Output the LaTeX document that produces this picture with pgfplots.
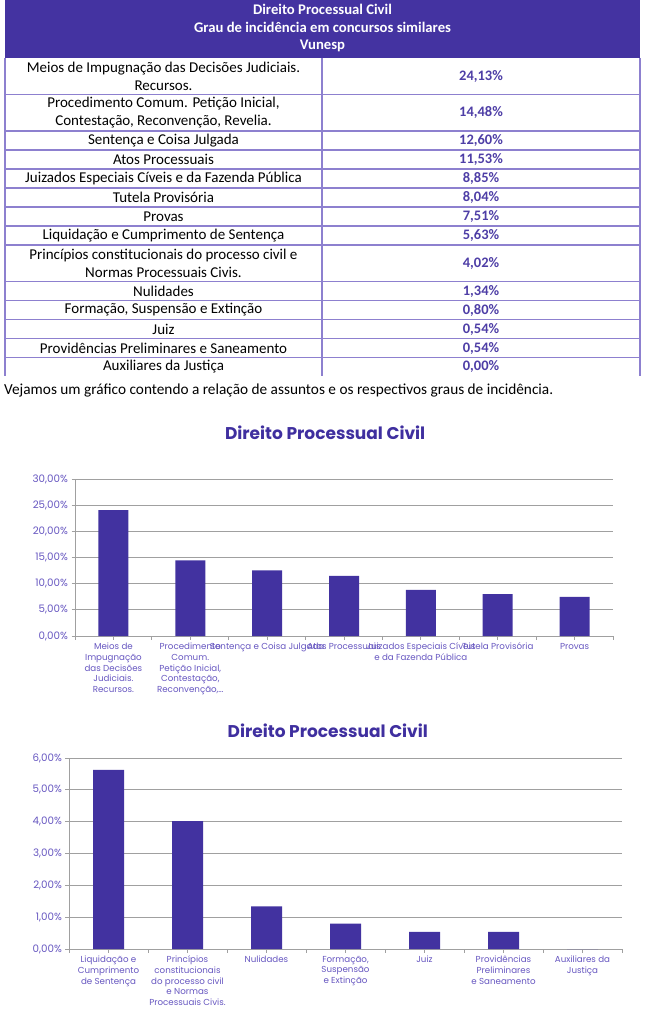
\documentclass[border=0pt]{standalone}
\usepackage{fontspec}
\setmainfont{Carlito}
\newfontfamily\chartfont{Poppins}
\usepackage{pgfplots}
\pgfplotsset{compat=1.18}
\usepackage{pgfplotstable}
\definecolor{hdr}{HTML}{4433A1}
\definecolor{barc}{HTML}{4232A0}
\definecolor{tline}{HTML}{8D80CF}
\definecolor{valc}{HTML}{4E3EA6}
\definecolor{ttl}{HTML}{3F2F9F}
\definecolor{tickc}{HTML}{6656C0}
\definecolor{gridc}{HTML}{A0A0A0}

\pgfplotstableread{
x y
0 24.13
1 14.48
2 12.60
3 11.53
4 8.85
5 8.04
6 7.51
}\tabA
\pgfplotstableread{
x y
0 5.63
1 4.02
2 1.34
3 0.80
4 0.54
5 0.54
6 0.00
}\tabB

\pgfplotsset{
  dpc/.style={
    scale only axis, anchor=south west,
    ybar, bar width=30pt,
    xmin=-0.5, xmax=6.5, ymin=0,
    axis x line*=bottom, axis y line*=left,
    axis line style={draw=gridc, line width=0.9pt},
    ymajorgrids, grid style={draw=gridc, line width=0.9pt},
    xtick={0,...,6}, minor xtick={-0.5,0.5,...,6.5},
    tick align=outside, major tick length=3.5pt, minor tick length=3.5pt,
    tick style={draw=gridc, line width=0.9pt},
    xticklabel style={font=\chartfont\fontsize{8.7}{10.7}\selectfont, text=tickc, align=center},
    yticklabel style={font=\chartfont\fontsize{10.3}{12}\selectfont, text=tickc},
    yticklabel={\pgfmathprintnumber[fixed,fixed zerofill,precision=2,use comma]{\tick}\%},
    /pgf/number format/assume math mode=true,
    title style={font=\chartfont\bfseries\fontsize{17}{20}\selectfont, text=ttl, anchor=center},
  }
}

\begin{document}
\begin{tikzpicture}
\path[use as bounding box] (0pt,0pt) rectangle (645pt,-1024pt);
% ---- table ----
\fill[hdr] (5pt,0pt) rectangle (640pt,-58pt);
\node[text=white, font=\bfseries\fontsize{14.7}{17.5}\selectfont, align=center] at (322.5pt,-28.5pt)
  {Direito Processual Civil\\Grau de incidência em concursos similares\\Vunesp};
\begin{scope}[draw=tline, line width=1.1pt]
\foreach \yy in {94.5,131,150,169,188,207,226,245,281.5,300.5,319.5,338.5,357.5}
  \draw (5pt,-\yy pt) -- (640pt,-\yy pt);
\draw (5pt,-58pt) -- (5pt,-376pt);
\draw (322pt,-58pt) -- (322pt,-376pt);
\draw (640pt,-58pt) -- (640pt,-376pt);
\end{scope}
\begin{scope}[every node/.style={font=\fontsize{15}{18}\selectfont, align=center}]
\node at (163.5pt,-76.25pt) {Meios de Impugnação das Decisões Judiciais.\\Recursos.};
\node at (163.5pt,-112.75pt) {Procedimento Comum. Petição Inicial,\\Contestação, Reconvenção, Revelia.};
\node at (163.5pt,-140.5pt) {Sentença e Coisa Julgada};
\node at (163.5pt,-159.5pt) {Atos Processuais};
\node at (163.5pt,-178.5pt) {Juizados Especiais Cíveis e da Fazenda Pública};
\node at (163.5pt,-197.5pt) {Tutela Provisória};
\node at (163.5pt,-216.5pt) {Provas};
\node at (163.5pt,-235.5pt) {Liquidação e Cumprimento de Sentença};
\node at (163.5pt,-263.25pt) {Princípios constitucionais do processo civil e\\Normas Processuais Civis.};
\node at (163.5pt,-291pt) {Nulidades};
\node at (163.5pt,-310pt) {Formação, Suspensão e Extinção};
\node at (163.5pt,-329pt) {Juiz};
\node at (163.5pt,-348pt) {Providências Preliminares e Saneamento};
\node at (163.5pt,-366.75pt) {Auxiliares da Justiça};
\end{scope}
\begin{scope}[every node/.style={font=\bfseries\fontsize{14.5}{18}\selectfont, text=valc}]
\node at (481pt,-76.25pt) {24,13\%};
\node at (481pt,-112.75pt) {14,48\%};
\node at (481pt,-140.5pt) {12,60\%};
\node at (481pt,-159.5pt) {11,53\%};
\node at (481pt,-178.5pt) {8,85\%};
\node at (481pt,-197.5pt) {8,04\%};
\node at (481pt,-216.5pt) {7,51\%};
\node at (481pt,-235.5pt) {5,63\%};
\node at (481pt,-263.25pt) {4,02\%};
\node at (481pt,-291pt) {1,34\%};
\node at (481pt,-310pt) {0,80\%};
\node at (481pt,-329pt) {0,54\%};
\node at (481pt,-348pt) {0,54\%};
\node at (481pt,-366.75pt) {0,00\%};
\end{scope}
\node[anchor=west, inner sep=0pt, font=\fontsize{15.3}{18}\selectfont] at (4pt,-391pt)
  {Vejamos um gráfico contendo a relação de assuntos e os respectivos graus de incidência.};
% ---- chart 1 ----
\begin{axis}[dpc, at={(75pt,-636pt)}, width=538pt, height=156.5pt,
  ymax=30, ytick={0,5,...,30},
  title={Direito Processual Civil},
  title style={at={(axis description cs:0.465,1)}, yshift=41pt},
  xticklabels={{Meios de\\Impugnação\\das Decisões\\Judiciais.\\Recursos.},
    {Procedimento\\Comum.\\Petição Inicial,\\Contestação,\\Reconvenção,\ldots},
    {Sentença e Coisa Julgada},{Atos Processuais},
    {Juizados Especiais Cíveis\\e da Fazenda Pública},{Tutela Provisória},{Provas}}]
\addplot[fill=barc, draw=none] table[x=x,y=y] {\tabA};
\end{axis}
% ---- chart 2 ----
\begin{axis}[dpc, at={(69pt,-949pt)}, width=553pt, height=191pt, bar width=31pt,
  ymax=6, ytick={0,1,...,6},
  title={Direito Processual Civil},
  title style={at={(axis description cs:0.468,1)}, yshift=21pt},
  xticklabels={{Liquidação e\\Cumprimento\\de Sentença},
    {Princípios\\constitucionais\\do processo civil\\e Normas\\Processuais Civis.},
    {Nulidades},{Formação,\\Suspensão\\e Extinção},{Juiz},
    {Providências\\Preliminares\\e Saneamento},{Auxiliares da\\Justiça}}]
\addplot[fill=barc, draw=none] table[x=x,y=y] {\tabB};
\end{axis}
\end{tikzpicture}
\end{document}
